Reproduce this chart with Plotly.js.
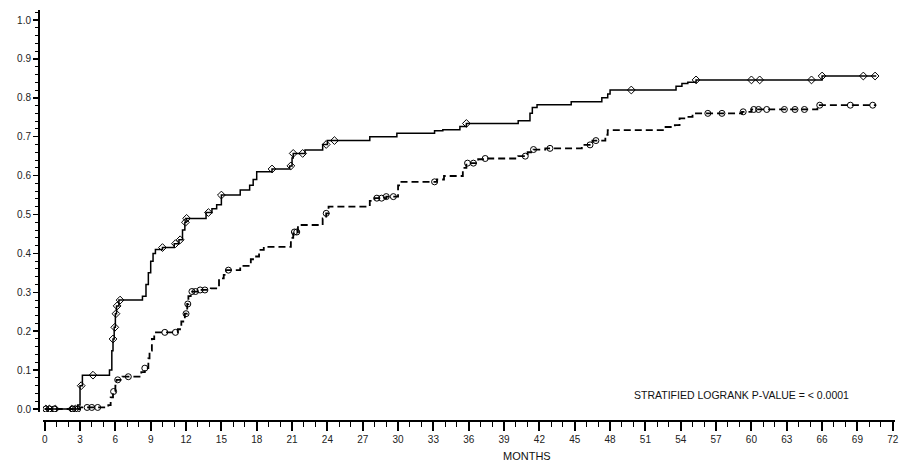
<!DOCTYPE html>
<html>
<head>
<meta charset="utf-8">
<script src="https://cdn.plot.ly/plotly-3.0.1.min.js"></script>
<style>html,body{margin:0;padding:0;background:#fff;}#chart{width:908px;height:464px;}</style>
</head>
<body>
<div id="chart"></div>
<script>
// Group 1 (solid line): event times (months) and cumulative probability
const timesA = [0, 2.8, 3.0, 3.2, 5.5, 5.7, 5.8, 5.9, 6.0, 6.1, 6.3, 8.3, 8.6, 8.8, 9.0, 9.2, 9.4, 10.0, 11.0, 11.4, 11.7, 11.9, 12.0,
  13.7, 14.2, 14.6, 15.0, 16.6, 17.4, 17.7, 18.0, 19.3, 20.8, 21.0, 21.1, 22.1, 23.6, 24.0, 27.6, 29.9, 33.1, 33.8,
  35.25, 35.8, 40.2, 41.2, 41.4, 41.8, 44.7, 47.3, 47.8, 48.0, 53.6, 54.1, 54.6, 55.3, 66.0, 70.6];
const probA = [0, 0.01, 0.06, 0.087, 0.10, 0.15, 0.18, 0.21, 0.245, 0.265, 0.28, 0.29, 0.32, 0.35, 0.38, 0.40, 0.41, 0.415, 0.425, 0.435, 0.46, 0.48, 0.49,
  0.505, 0.515, 0.525, 0.55, 0.563, 0.575, 0.59, 0.61, 0.617, 0.625, 0.645, 0.657, 0.666, 0.68, 0.69, 0.70, 0.709, 0.715, 0.718,
  0.726, 0.734, 0.741, 0.76, 0.775, 0.782, 0.79, 0.80, 0.81, 0.82, 0.83, 0.837, 0.84, 0.846, 0.856, 0.856];
const censorA = [0.1, 0.4, 0.9, 2.3, 2.6, 3.1, 4.1, 5.8, 5.95, 6.05, 6.15, 6.4, 10.0, 11.1, 11.5, 11.95, 12.05, 13.9, 15.0,
  19.3, 20.9, 21.1, 21.9, 23.9, 24.6, 35.8, 49.8, 55.3, 60.0, 60.7, 65.1, 66.0, 69.5, 70.5];

// Group 2 (dashed line)
const timesB = [0, 3.0, 5.4, 5.6, 5.8, 6.0, 6.1, 6.6, 8.2, 8.5, 8.8, 8.9, 9.1, 9.3, 11.3, 11.6, 11.9, 12.1, 12.2, 12.4, 13.2, 14.1,
  14.8, 15.2, 15.4, 16.6, 17.5, 17.8, 18.2, 18.6, 20.9, 21.1, 21.5, 23.6, 23.9, 24.1, 27.6, 28.0, 29.0, 30.0, 30.2, 33.3, 33.9,
  35.5, 35.8, 36.8, 37.3, 40.2, 41.0, 41.5, 42.5, 45.6, 46.5, 47.6, 47.8, 52.6, 53.5, 53.9, 54.3, 55.0, 59.2, 60.0, 65.6, 70.6];
const probB = [0, 0.004, 0.01, 0.03, 0.045, 0.06, 0.075, 0.083, 0.095, 0.105, 0.13, 0.15, 0.18, 0.197, 0.205, 0.225, 0.245, 0.27, 0.29, 0.302, 0.306, 0.31,
  0.336, 0.345, 0.357, 0.368, 0.385, 0.392, 0.409, 0.417, 0.44, 0.455, 0.473, 0.49, 0.503, 0.52, 0.535, 0.542, 0.546, 0.575, 0.584, 0.59, 0.599,
  0.62, 0.632, 0.642, 0.644, 0.65, 0.66, 0.667, 0.67, 0.679, 0.69, 0.705, 0.717, 0.725, 0.73, 0.747, 0.751, 0.76, 0.764, 0.77, 0.781, 0.781];
const censorB = [0.1, 0.4, 0.8, 2.4, 2.8, 3.6, 4.0, 4.5, 5.85, 6.2, 7.1, 8.5, 10.2, 11.1, 12.0, 12.15, 12.5, 12.8, 13.2, 13.6, 15.6,
  21.2, 21.4, 23.9, 28.2, 28.6, 29.0, 29.6, 33.1, 35.9, 36.4, 37.4, 40.8, 41.5, 42.9, 46.3, 46.8, 56.3, 57.5, 59.3, 60.2, 60.6,
  61.3, 62.8, 63.7, 64.5, 65.8, 68.4, 70.3];

const xTickVals = [0,3,6,9,12,15,18,21,24,27,30,33,36,39,42,45,48,51,54,57,60,63,66,69,72];
const yTickVals = [0,0.1,0.2,0.3,0.4,0.5,0.6,0.7,0.8,0.9,1.0];
const yTickText = ['0.0','0.1','0.2','0.3','0.4','0.5','0.6','0.7','0.8','0.9','1.0'];
const pText = 'STRATIFIED LOGRANK P-VALUE = < 0.0001';
const xTitle = 'MONTHS';

function levelAt(times, probs, t) {
  let v = probs[0];
  for (let i = 0; i < times.length; i++) { if (times[i] <= t) v = probs[i]; }
  return v;
}

const traces = [
  {x: timesA, y: probA, mode: 'lines', line: {shape: 'hv', color: '#000', width: 1.5}, hoverinfo: 'skip'},
  {x: timesB, y: probB, mode: 'lines', line: {shape: 'hv', color: '#000', width: 1.8, dash: '7px,4px'}, hoverinfo: 'skip'},
  {x: censorA, y: censorA.map(t => levelAt(timesA, probA, t)), mode: 'markers',
   marker: {symbol: 'diamond-open', size: 6, color: '#000', line: {width: 1, color: '#000'}}},
  {x: censorB, y: censorB.map(t => levelAt(timesB, probB, t)), mode: 'markers',
   marker: {symbol: 'circle-open', size: 6, color: '#000', line: {width: 1, color: '#000'}}}
];

const tickFont = {family: 'Liberation Sans, Arial, sans-serif', size: 10, color: '#222'};

const layout = {
  width: 908, height: 464,
  margin: {l: 38, r: 13, t: 10, b: 44},
  paper_bgcolor: '#fff', plot_bgcolor: '#fff',
  showlegend: false,
  xaxis: {
    domain: [0.00583, 1], anchor: 'free', position: 0,
    range: [-0.144, 72.19], showgrid: false, zeroline: false,
    showline: true, linecolor: '#000', linewidth: 1.5,
    tickmode: 'array', tickvals: xTickVals, ticktext: xTickVals.map(String),
    ticks: 'outside', ticklen: 9, tickwidth: 2, tickcolor: '#000',
    minor: {dtick: 1, tick0: 0, ticks: 'outside', ticklen: 5, tickwidth: 1, tickcolor: '#000'},
    tickfont: tickFont
  },
  yaxis: {
    domain: [0.0195, 1], anchor: 'free', position: 0,
    range: [-0.0077, 1.0257], showgrid: false, zeroline: false,
    showline: true, linecolor: '#000', linewidth: 1.5,
    tickmode: 'array', tickvals: yTickVals, ticktext: yTickText,
    ticks: 'outside', ticklen: 5, tickwidth: 1.5, tickcolor: '#000',
    minor: {dtick: 0.02, tick0: 0, ticks: 'outside', ticklen: 3, tickwidth: 1, tickcolor: '#000'},
    tickfont: tickFont
  },
  annotations: [
    {text: pText, xref: 'x', yref: 'y', x: 49.9, y: 0.036, xanchor: 'left', yanchor: 'middle', showarrow: false,
     font: {family: 'Liberation Sans, Arial, sans-serif', size: 10.5, color: '#111'}},
    {text: xTitle, xref: 'paper', yref: 'paper', x: 0.5706, y: -0.105, xanchor: 'center', yanchor: 'bottom', showarrow: false,
     borderpad: 0, font: {family: 'Liberation Sans, Arial, sans-serif', size: 11, color: '#111'}}
  ]
};

Plotly.newPlot('chart', traces, layout, {staticPlot: true, displayModeBar: false});
</script>
</body>
</html>
